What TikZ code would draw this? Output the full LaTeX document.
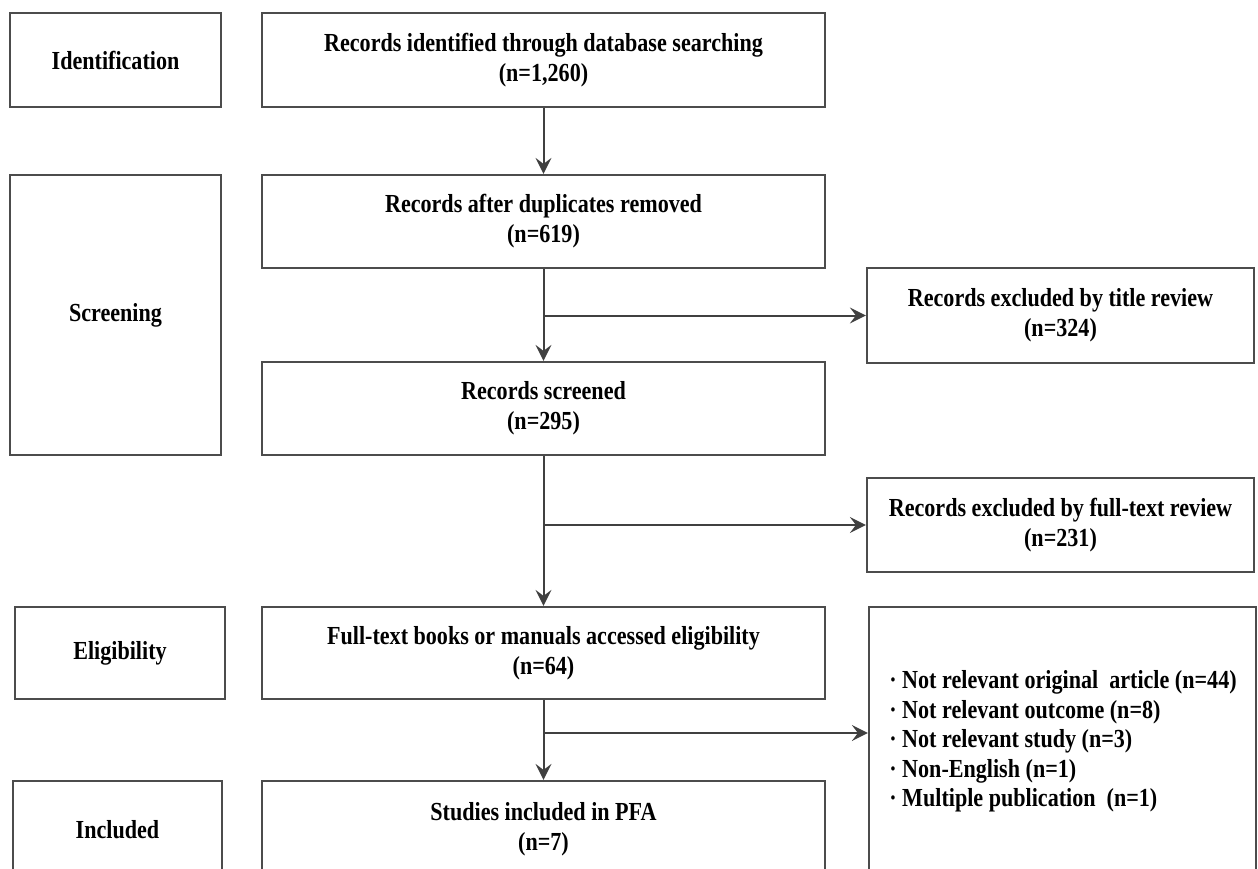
\documentclass[tikz,border=0pt]{standalone}
\usepackage{fontspec}
\setmainfont{Liberation Serif}[FakeStretch=0.85]
\usetikzlibrary{arrows.meta}
\begin{document}
\begin{tikzpicture}[x=1pt,y=-1pt,
  box/.style={draw=black!70, line width=2.2pt, rectangle, inner sep=0pt,
    align=center, font=\fontsize{26}{30}\selectfont\bfseries, text=black},
  conn/.style={draw=black!75, line width=2pt},
  arr/.style={conn, -{Stealth[length=16pt, width=16pt, inset=6pt]}}]
\useasboundingbox (0,0) rectangle (1258,869);
\fill[white] (0,0) rectangle (1258,869);
% stage labels
\node[box, minimum width=211, minimum height=94] (ident) at (115.5,60) {Identification};
\node[box, minimum width=211, minimum height=280] (screen) at (115.5,315) {Screening};
\node[box, minimum width=210, minimum height=92] (elig) at (120,653) {Eligibility};
\node[box, minimum width=209, minimum height=97] (incl) at (117.5,829.5) {Included};
% main column
\node[box, minimum width=563, minimum height=94] (rec1) at (543.5,60) {Records identified through database searching\\(n=1,260)};
\node[box, minimum width=563, minimum height=93] (rec2) at (543.5,221.5) {Records after duplicates removed\\(n=619)};
\node[box, minimum width=563, minimum height=93] (rec3) at (543.5,408.5) {Records screened\\(n=295)};
\node[box, minimum width=563, minimum height=92] (rec4) at (543.5,653) {Full-text books or manuals accessed eligibility\\(n=64)};
\node[box, minimum width=563, minimum height=97] (rec5) at (543.5,829.5) {Studies included in PFA\\(n=7)};
% exclusion column
\node[box, minimum width=387, minimum height=95] (ex1) at (1060.5,315.5) {Records excluded by title review\\(n=324)};
\node[box, minimum width=387, minimum height=94] (ex2) at (1060.5,525) {Records excluded by full-text review\\(n=231)};
\node[box, minimum width=387, minimum height=271] (ex3) at (1062.5,742.5) {};
\node[font=\fontsize{26}{29.5}\selectfont\bfseries, align=left, inner sep=0pt] (ex3t) at (1063,741.5) {%
· Not relevant original\ \ article (n=44)\\
· Not relevant outcome (n=8)\\
· Not relevant study (n=3)\\
· Non-English (n=1)\\
· Multiple publication\ \ (n=1)};
% connectors
\draw[arr] (rec1.south) -- (rec2.north);
\draw[arr] (rec2.south) -- (rec3.north);
\draw[arr] (rec3.south) -- (rec4.north);
\draw[arr] (rec4.south) -- (rec5.north);
\coordinate (b1) at (rec2.south |- ex1.west);
\coordinate (b2) at (rec3.south |- ex2.west);
\coordinate (b3) at (543.5,733);
\draw[arr] (b1) -- (ex1.west);
\draw[arr] (b2) -- (ex2.west);
\draw[arr] (b3) -- (b3 -| ex3.west);
\end{tikzpicture}
\end{document}
